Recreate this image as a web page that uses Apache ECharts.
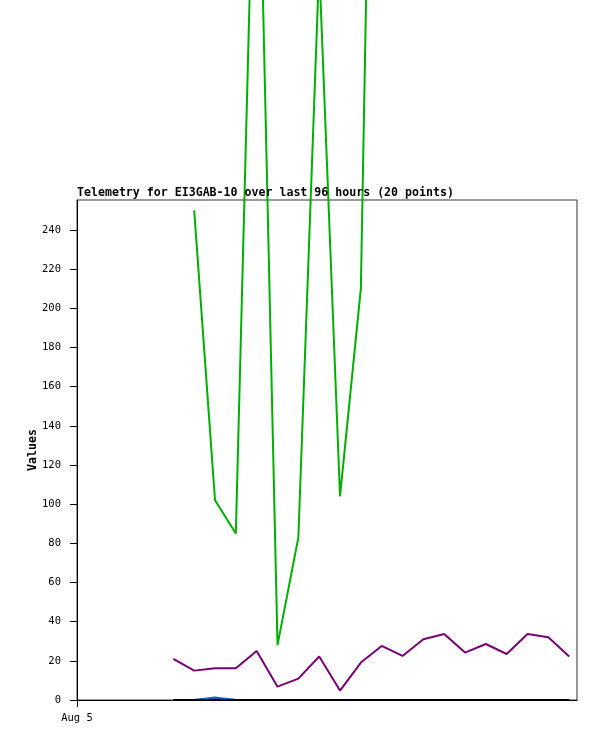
<!DOCTYPE html>
<html>
<head>
<meta charset="utf-8">
<title>Telemetry</title>
<script src="https://cdn.jsdelivr.net/npm/echarts@6/dist/echarts.min.js"></script>
<style>
  html, body { margin: 0; padding: 0; background: #fff; }
  #main { width: 597px; height: 741px; }
</style>
</head>
<body>
<div id="main"></div>
<script>
// hours since Aug 5 00:00 for each telemetry packet
var hours = [18.5, 22.5, 26.5, 30.5, 34.5, 38.5, 42.5, 46.5, 50.5, 54.5,
             58.5, 62.5, 66.5, 70.5, 74.5, 78.5, 82.5, 86.5, 90.5, 94.5];

var green  = [null, 250, 102, 85, 500, 28, 83, 375, 104, 210,
              800, null, null, null, null, null, null, null, null, null];
var purple = [21.0, 15.0, 16.2, 16.2, 25.0, 6.8, 10.9, 22.2, 4.8, 19.1,
              27.6, 22.5, 31.0, 33.7, 24.2, 28.6, 23.5, 33.7, 32.0, 22.2];
var blue   = [0, 0, 1.3, 0, 0, 0, 0, 0, 0, 0, 0, 0, 0, 0, 0, 0, 0, 0, 0, 0];
var red    = [0, 0, 0.6, 0, 0, 0, 0, 0, 0, 0, 0, 0, 0, 0, 0, 0, 0, 0, 0, 0];
var black  = [0, 0, 0, 0, 0, 0, 0, 0, 0, 0, 0, 0, 0, 0, 0, 0, 0, 0, 0, 0];

var yTicks = [0, 20, 40, 60, 80, 100, 120, 140, 160, 180, 200, 220, 240];
var xTicks = [0];
var xTickLabels = ['Aug 5'];

function pairs(vals) {
    return hours.map(function (h, i) { return [h, vals[i]]; });
}

function line(vals, color) {
    return {
        type: 'line',
        data: pairs(vals),
        symbol: 'none',
        clip: false,
        connectNulls: false,
        animation: false,
        lineStyle: { color: color, width: 2 }
    };
}

var chartDom = document.getElementById('main');
var myChart = echarts.init(chartDom);
var option;

option = {
    animation: false,
    title: {
        text: 'Telemetry for EI3GAB-10 over last 96 hours (20 points)',
        left: 77,
        top: 187,
        padding: 0,
        textStyle: {
            fontFamily: 'DejaVu Sans Mono',
            fontSize: 11.6,
            fontWeight: 'bold',
            color: '#000',
            lineHeight: 12
        }
    },
    grid: {
        left: 77,
        top: 200,
        right: 20,
        bottom: 41,
        show: true,
        borderColor: '#333',
        borderWidth: 1,
        backgroundColor: 'transparent'
    },
    xAxis: {
        type: 'value',
        min: 0,
        max: 96,
        interval: 96,
        axisLine: { lineStyle: { color: '#000', width: 1 } },
        axisTick: { show: true, length: 7, customValues: xTicks, lineStyle: { color: '#000' } },
        axisLabel: {
            customValues: xTicks,
            margin: 13,
            fontFamily: 'DejaVu Sans Mono',
            fontSize: 10.5,
            color: '#000',
            formatter: function (v) {
                var i = xTicks.indexOf(v);
                return i >= 0 ? xTickLabels[i] : '';
            }
        },
        splitLine: { show: false }
    },
    yAxis: {
        type: 'value',
        min: 0,
        max: 255.3,
        interval: 20,
        name: 'Values',
        nameLocation: 'middle',
        nameGap: 38,
        nameMoveOverlap: false,
        nameTextStyle: {
            fontFamily: 'DejaVu Sans Mono',
            fontSize: 11.6,
            fontWeight: 'bold',
            color: '#000'
        },
        axisLine: { show: true, lineStyle: { color: '#000', width: 1 } },
        axisTick: { show: true, length: 7, customValues: yTicks, lineStyle: { color: '#000' } },
        axisLabel: {
            customValues: yTicks,
            margin: 16,
            fontFamily: 'DejaVu Sans Mono',
            fontSize: 10.5,
            color: '#000'
        },
        splitLine: { show: false }
    },
    series: [
        line(red, '#ff0000'),
        line(blue, '#0066cc'),
        line(black, '#000000'),
        line(purple, '#770077'),
        line(green, '#00b000')
    ]
};

option && myChart.setOption(option);
</script>
</body>
</html>
